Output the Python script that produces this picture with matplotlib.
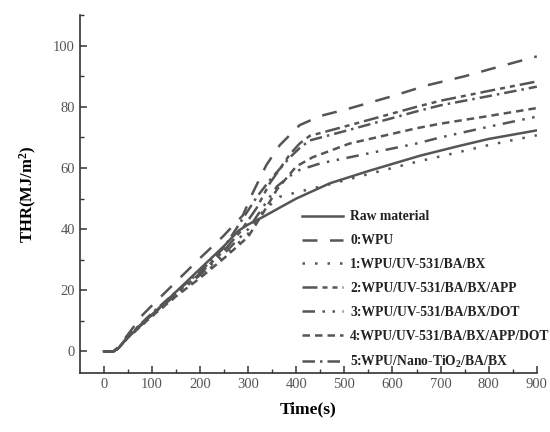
import matplotlib
matplotlib.use("Agg")
import matplotlib.pyplot as plt
import numpy as np

# THR curves (time in s, THR in MJ/m2)
raw_t = [0, 20, 30, 50, 100, 150, 200, 250, 280, 300, 331, 400, 470, 550, 657, 733, 800, 900]
raw_v = [0, 0, 1, 4.5, 12, 19.5, 27, 34.5, 39.5, 41.5, 44, 50, 55, 59, 64, 67, 69.5, 72.3]

wpu_t = [0, 20, 30, 50, 81, 100, 158, 200, 247, 289, 310, 338, 366, 407, 450, 511, 600, 671, 750, 800, 900]
wpu_v = [0, 0, 1.5, 5.5, 12, 15, 24, 30.5, 37.5, 44.5, 52, 61, 67.5, 74, 77, 79.5, 83.5, 87, 90, 92.2, 96.5]

s1_t = [0, 20, 30, 50, 100, 150, 200, 250, 300, 331, 366, 400, 463, 550, 650, 733, 800, 900]
s1_v = [0, 0, 1, 4.5, 11.5, 18, 24.5, 31, 38.5, 46, 50.6, 52, 54.4, 58, 62, 65, 67.5, 70.7]

s2_t = [0, 20, 30, 50, 100, 150, 200, 250, 283, 318, 345, 387, 407, 428, 511, 650, 700, 800, 900]
s2_v = [0, 0, 1, 5, 12, 19, 25.5, 33, 39, 47, 55, 64.5, 68, 70.5, 74, 80, 82, 85.2, 88.3]

s3_t = [0, 20, 30, 50, 100, 150, 200, 250, 300, 330, 360, 400, 450, 511, 650, 700, 800, 900]
s3_v = [0, 0, 1, 4.5, 12, 18.5, 25, 32, 40, 47, 54, 59, 61.5, 63.5, 68, 70, 73.5, 76.8]

s4_t = [0, 20, 30, 50, 100, 150, 200, 250, 300, 330, 360, 400, 434, 511, 600, 650, 700, 800, 900]
s4_v = [0, 0, 1, 4.5, 11.5, 18, 24, 30.5, 37.5, 45, 53, 60.5, 63.5, 68, 71.2, 73, 74.5, 77, 79.6]

s5_t = [0, 20, 30, 50, 100, 150, 200, 250, 283, 318, 345, 387, 407, 428, 511, 650, 700, 800, 900]
s5_v = [0, 0, 1, 5, 12.5, 19.5, 26, 34, 42, 50.5, 56, 63.5, 66.5, 69, 72.5, 78.5, 80.5, 83.5, 86.6]

labels = [
    "Raw material",
    "0:WPU",
    "1:WPU/UV-531/BA/BX",
    "2:WPU/UV-531/BA/BX/APP",
    "3:WPU/UV-531/BA/BX/DOT",
    "4:WPU/UV-531/BA/BX/APP/DOT",
    "5:WPU/Nano-TiO$_2$/BA/BX",
]

series = [(raw_t, raw_v), (wpu_t, wpu_v), (s1_t, s1_v), (s2_t, s2_v),
          (s3_t, s3_v), (s4_t, s4_v), (s5_t, s5_v)]
dashes = [None, (6, 5), (1, 4), (6, 2, 2, 2, 2, 2), (5, 3, 1, 3, 1, 3), (3, 2), (5, 2, 1, 2)]

plt.rcParams["font.family"] = ["Liberation Serif", "DejaVu Serif"]
plt.rcParams["mathtext.default"] = "regular"

line_col = "#555555"
fig = plt.figure(figsize=(5.5, 4.32), dpi=100)
ax = fig.add_axes([0.145, 0.137, 0.831, 0.828])

for (t, v), lab, d in zip(series, labels, dashes):
    ln, = ax.plot(t, v, color=line_col, lw=1.8, label=lab)
    if d is not None:
        ln.set_dashes(d)

ax.set_xlim(-50, 900)
ax.set_ylim(-7, 110)
ax.set_xticks(np.arange(0, 901, 100))
ax.set_xticks(np.arange(0, 901, 50), minor=True)
ax.set_yticks(np.arange(0, 101, 20))
ax.set_yticks(np.arange(0, 111, 10), minor=True)

for s in ["top", "right"]:
    ax.spines[s].set_visible(False)
for s in ["left", "bottom"]:
    ax.spines[s].set_linewidth(1.2)
    ax.spines[s].set_color("#333333")
ax.tick_params(which="major", direction="in", length=5, width=1.1, color="#333333",
               labelsize=10.5, labelcolor="#555555")
ax.tick_params(which="minor", direction="in", length=3, width=1.0, color="#333333")

ax.set_xlabel("Time(s)", fontsize=12.5, fontweight="bold", labelpad=8)
ax.set_ylabel("THR(MJ/m$^2$)", fontsize=12, fontweight="bold", labelpad=10)

# legend sits partly outside the axes, as in the original
leg = ax.legend(loc="upper left", bbox_to_anchor=(0.549, 0.513), bbox_transform=fig.transFigure,
                frameon=False, handlelength=3.0, handletextpad=0.55, labelspacing=0.8,
                prop={"weight": "bold", "size": 9.8}, borderaxespad=0, borderpad=0)
for txt in leg.get_texts():
    txt.set_color("#222222")

fig.savefig("out.png", dpi=100)
